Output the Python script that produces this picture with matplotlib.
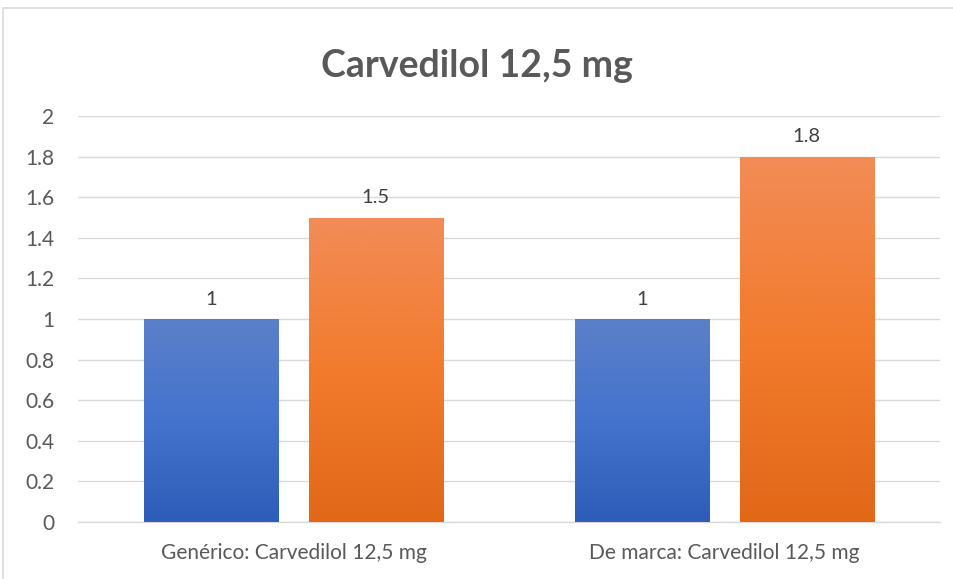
import matplotlib
matplotlib.use("Agg")
import matplotlib.pyplot as plt
import numpy as np
from matplotlib.colors import LinearSegmentedColormap
from matplotlib.patches import Rectangle

categories = ["Genérico: Carvedilol 12,5 mg", "De marca: Carvedilol 12,5 mg"]
series1 = [1, 1]
series2 = [1.5, 1.8]
yticks = [0, 0.2, 0.4, 0.6, 0.8, 1, 1.2, 1.4, 1.6, 1.8, 2]
ytick_labels = ["0", "0.2", "0.4", "0.6", "0.8", "1", "1.2", "1.4", "1.6", "1.8", "2"]
title = "Carvedilol 12,5 mg"

plt.rcParams['font.family'] = ['Lato', 'DejaVu Sans']

fig = plt.figure(figsize=(9.54, 5.79), dpi=100)
ax = fig.add_axes([78/954, 1-522/579, 862/954, (522-116)/579])

# chart frame border
fig.patches.append(Rectangle((3/954, -0.1), 1.2, 1 - 8/579 + 0.1, transform=fig.transFigure,
                             fill=False, edgecolor="#D9D9D9", linewidth=1.2))

blue_cmap = LinearSegmentedColormap.from_list("b", ["#2E5DB9", "#4473CD", "#5B80C9"])
orange_cmap = LinearSegmentedColormap.from_list("o", ["#E26818", "#F27B2D", "#F28C57"])

x = np.arange(len(categories))
w = 0.311
off = 0.191
grad = np.linspace(0, 1, 256).reshape(-1, 1)

def gbar(xc, h, cmap):
    r = Rectangle((xc - w/2, 0), w, h, facecolor="none", edgecolor="none", zorder=3)
    ax.add_patch(r)
    im = ax.imshow(grad, cmap=cmap, origin="lower", aspect="auto",
                   extent=(xc - w/2, xc + w/2, 0, h), zorder=3, interpolation="bilinear")
    im.set_clip_path(r)
    ax.text(xc, h + 0.055, f"{h:g}", ha="center", va="bottom", fontsize=14.5, color="#404040")

for i in range(len(categories)):
    gbar(x[i] - off, series1[i], blue_cmap)
    gbar(x[i] + off, series2[i], orange_cmap)

ax.set_xlim(-0.5, 1.5)
ax.set_ylim(0, 2)
ax.set_yticks(yticks)
ax.set_yticklabels(ytick_labels)
ax.set_xticks(x)
ax.set_xticklabels(categories)
ax.tick_params(axis="both", length=0, labelsize=15, colors="#595959")
ax.tick_params(axis="y", pad=17)
ax.tick_params(axis="x", pad=15)
ax.grid(axis="y", color="#D9D9D9", linewidth=1)
ax.set_axisbelow(True)
for s in ["top", "right", "left"]:
    ax.spines[s].set_visible(False)
ax.spines["bottom"].set_color("#D9D9D9")
ax.spines["bottom"].set_linewidth(1)

fig.text(477/954, 1-66/579, title, ha="center", va="center", fontsize=27,
         fontweight="bold", color="#595959")

fig.savefig("out.png", dpi=100)
